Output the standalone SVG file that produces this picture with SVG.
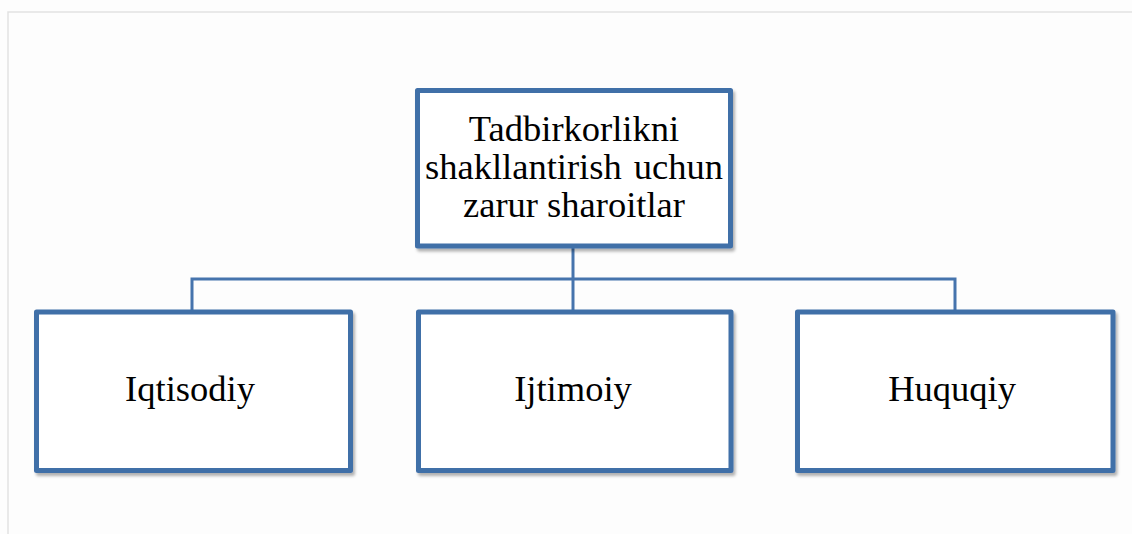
<svg xmlns="http://www.w3.org/2000/svg" width="1132" height="534" viewBox="0 0 1132 534">
  <defs>
    <filter id="shadow" x="-5%" y="-5%" width="110%" height="115%">
      <feDropShadow dx="2" dy="3" stdDeviation="1.5" flood-color="#000" flood-opacity="0.3"/>
    </filter>
  </defs>
  <style>
    .box { fill: #ffffff; stroke: #3f6fa8; stroke-width: 5; stroke-linejoin: round; }
    .conn { fill: none; stroke: #4674ad; stroke-width: 3; }
    .lbl { font-family: "Liberation Serif", "Times New Roman", serif; font-size: 36.5px; fill: #000; text-anchor: middle; }
  </style>
  <rect x="0" y="0" width="1132" height="534" fill="#fdfdfd"/>
  <path d="M8 534 V12 H1132" fill="none" stroke="#e2e2e2" stroke-width="1.5"/>

  <g id="connectors">
    <path class="conn" d="M573 247 V279"/>
    <path class="conn" d="M192 312 V279 H955 V312"/>
    <path class="conn" d="M573 279 V312"/>
  </g>

  <g id="root">
    <rect class="box" x="417.5" y="90.5" width="313" height="155.5" filter="url(#shadow)"/>
    <text class="lbl" x="574" y="141">Tadbirkorlikni</text>
    <text class="lbl" x="574" y="178.5" word-spacing="3">shakllantirish uchun</text>
    <text class="lbl" x="574" y="216.5">zarur sharoitlar</text>
  </g>

  <g id="iqtisodiy">
    <rect class="box" x="36.5" y="312" width="314" height="158.5" filter="url(#shadow)"/>
    <text class="lbl" x="190" y="400.5">Iqtisodiy</text>
  </g>

  <g id="ijtimoiy">
    <rect class="box" x="418.5" y="312" width="312.5" height="158.5" filter="url(#shadow)"/>
    <text class="lbl" x="573" y="400.5">Ijtimoiy</text>
  </g>

  <g id="huquqiy">
    <rect class="box" x="797.5" y="312" width="315.5" height="158.5" filter="url(#shadow)"/>
    <text class="lbl" x="952" y="400.5">Huquqiy</text>
  </g>
</svg>
